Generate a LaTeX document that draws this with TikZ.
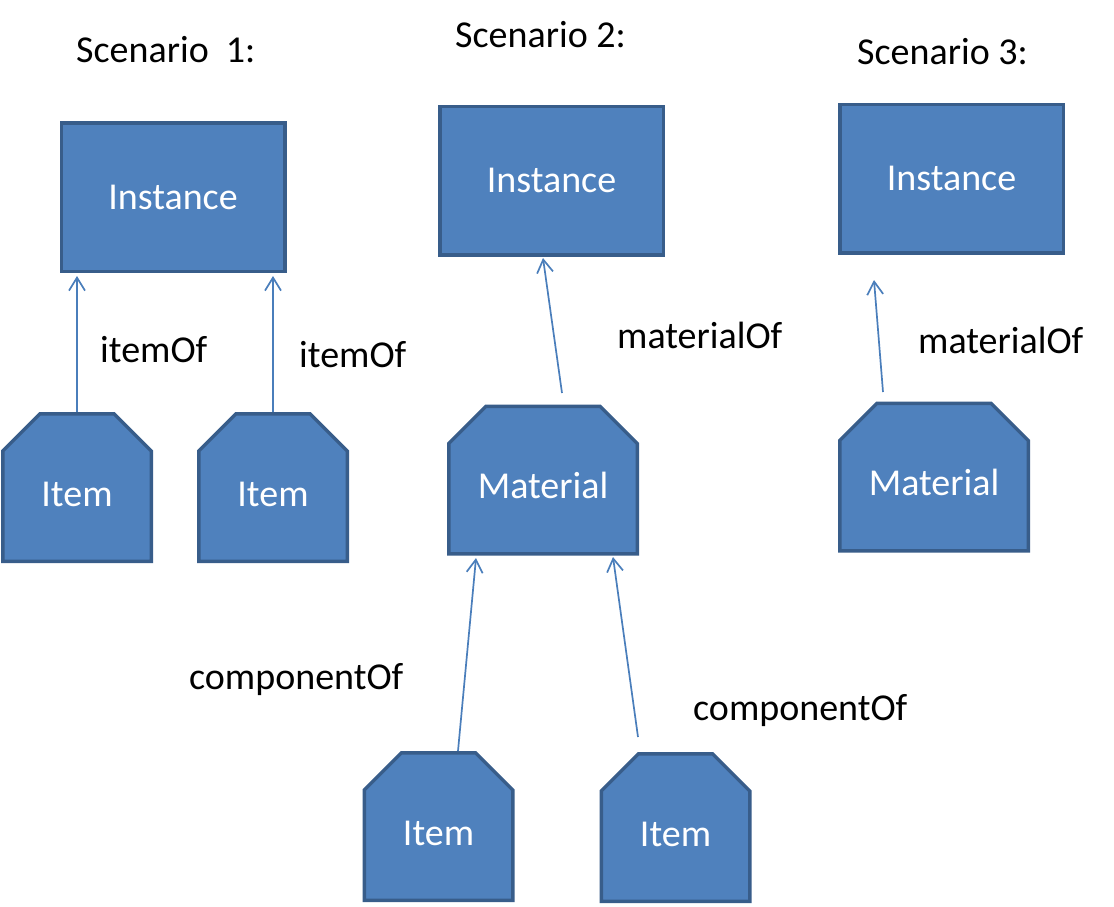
\documentclass[tikz,border=0pt]{standalone}
\usepackage{fontspec}
\setmainfont{Carlito}
\usetikzlibrary{shapes.misc,arrows.meta,calc}
\definecolor{boxfill}{HTML}{4F81BD}
\definecolor{boxline}{HTML}{385D8A}
\definecolor{arrowc}{HTML}{4A7EBB}
\begin{document}
\begin{tikzpicture}[x=1pt,y=-1pt,
  every node/.style={font=\fontsize{38}{44}\selectfont},
  basebox/.style={draw=boxline, fill=boxfill, line width=3.5pt, text=white,
    text height=24.5pt, text depth=0pt, inner sep=0pt},
  instbox/.style={basebox, rectangle, minimum width=223.5pt, minimum height=148.5pt},
  chambox/.style={basebox, chamfered rectangle,
    chamfered rectangle corners={north west,north east},
    chamfered rectangle xsep=25pt, chamfered rectangle ysep=25pt},
  itembox/.style={chambox, minimum width=148.5pt, minimum height=147.5pt},
  matbox/.style={chambox, minimum width=188.5pt, minimum height=147.5pt},
  lbl/.style={anchor=base west, inner sep=0pt, text=black},
  rel/.style={draw=arrowc, line width=1.7pt, -{Straight Barb[length=13pt,width=16pt]}},
]
\fill[white] (0,0) rectangle (1114,907);
\useasboundingbox (0,0) rectangle (1114,907);

% titles
\node[lbl] (sc1) at (76,63) {Scenario\ \ 1:};
\node[lbl] (sc2) at (455,48) {Scenario 2:};
\node[lbl] (sc3) at (857,65) {Scenario 3:};

% scenario 1
\node[instbox] (inst1) at (173,197) {Instance};
\node[itembox] (i1a) at (77,487.5) {\raisebox{-6.5pt}{Item}};
\node[itembox] (i1b) at (273,487.5) {\raisebox{-6.5pt}{Item}};

% scenario 2
\node[instbox] (inst2) at (551.5,180.5) {Instance};
\node[matbox] (m2) at (543,480) {\raisebox{-6.5pt}{Material}};
\node[itembox] (i2a) at (438.5,826.5) {\raisebox{-6.5pt}{Item}};
\node[itembox] (i2b) at (675.5,827.5) {\raisebox{-6.5pt}{Item}};

% scenario 3
\node[instbox] (inst3) at (951.5,178.5) {Instance};
\node[matbox] (m3) at (934,477) {\raisebox{-6.5pt}{Material}};

% connector ends
\coordinate (t1) at (77,276);
\coordinate (t2) at (273,276);
\coordinate (s3) at (562,393);
\coordinate (t3) at (543,258);
\coordinate (s4) at ($(i2a.north)+(19.5,0)$);
\coordinate (t4) at (476,558);
\coordinate (s5) at (638,737);
\coordinate (t5) at (613,557);
\coordinate (s6) at (883,392);
\coordinate (t6) at (874,280);

\draw[rel] (i1a.north) -- (t1);
\draw[rel] (i1b.north) -- (t2);
\draw[rel] (s3) -- (t3);
\draw[rel] (s4) -- (t4);
\draw[rel] (s5) -- (t5);
\draw[rel] (s6) -- (t6);

% labels
\node[lbl] (l1) at (100,362) {itemOf};
\node[lbl] (l2) at (299,367) {itemOf};
\node[lbl] (l3) at (617,348) {materialOf};
\node[lbl] (l4) at (918,353) {materialOf};
\node[lbl] (l5) at (189,689) {componentOf};
\node[lbl] (l6) at (693,720) {componentOf};
\end{tikzpicture}
\end{document}
